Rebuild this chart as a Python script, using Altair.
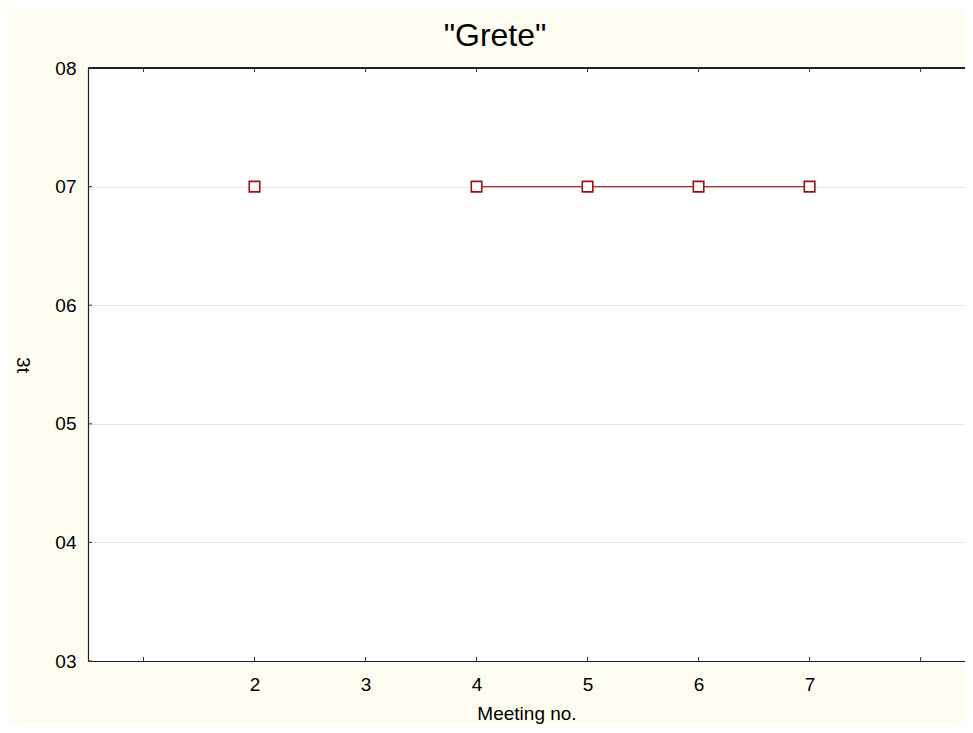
import altair as alt
import pandas as pd

# ---- data ----
meetings = [1, 2, 3, 4, 5, 6, 7, 8]
values_3t = [None, 7, None, 7, 7, 7, 7, None]
x_tick_values = [1, 2, 3, 4, 5, 6, 7, 8]
x_label_values = [2, 3, 4, 5, 6, 7]
y_tick_values = [3, 4, 5, 6, 7, 8]
chart_title = '"Grete"'

df = pd.DataFrame({"meeting": meetings, "value": values_3t})
xt = pd.DataFrame({"t": x_tick_values})
yt = pd.DataFrame({"t": y_tick_values})
tt = pd.DataFrame({"title": [chart_title]})

W, H = 877, 593
FONT = "Liberation Sans"
RED = "#9b1010"

xscale = alt.Scale(domain=[0.5, 8.4], nice=False, zero=False)
yscale = alt.Scale(domain=[3, 8], nice=False, zero=False)

xaxis = alt.Axis(values=x_label_values, format="d", title="Meeting no.", grid=False, tickSize=0,
                 labelPadding=23, labelBaseline="middle", labelFontSize=19, labelFont=FONT,
                 labelColor="black", titleFont=FONT, titleFontSize=19, titleFontWeight="normal",
                 titleColor="black", titleY=52, titleBaseline="middle",
                 domainColor="#222222", domainWidth=1.2)
yaxis = alt.Axis(values=y_tick_values, format="02d", title="3t", grid=True, gridColor="#e6e6e6",
                 gridWidth=1, tickSize=0, labelPadding=12, labelBaseline="middle",
                 labelFontSize=19, labelFont=FONT, labelColor="black",
                 titleFont=FONT, titleFontSize=19, titleFontWeight="normal", titleColor="black",
                 titleAngle=90, titleX=-66, titleY=H / 2, titleAlign="center",
                 titleBaseline="middle", domainColor="#222222", domainWidth=1.2)

line = alt.Chart(df).mark_line(color="#a83232", strokeWidth=1.2,
                               invalid="break-paths-filter-domains").encode(
    x=alt.X("meeting:Q", scale=xscale, axis=xaxis),
    y=alt.Y("value:Q", scale=yscale, axis=yaxis),
)

points = alt.Chart(df).mark_point(shape="square", size=110, filled=False, fill="white",
                                  fillOpacity=1, color=RED, strokeWidth=1.6, opacity=1).encode(
    x=alt.X("meeting:Q", scale=xscale),
    y=alt.Y("value:Q", scale=yscale),
)

top_border = alt.Chart(xt).mark_rule(color="#222222", strokeWidth=1.2).encode(
    x=alt.value(0), x2=alt.value(W), y=alt.value(0))

xticks_bottom = alt.Chart(xt).mark_rule(color="#333333", strokeWidth=1).encode(
    x=alt.X("t:Q", scale=xscale), y=alt.value(H), y2=alt.value(H - 4))
xticks_top = alt.Chart(xt).mark_rule(color="#333333", strokeWidth=1).encode(
    x=alt.X("t:Q", scale=xscale), y=alt.value(0), y2=alt.value(4))
yticks_left = alt.Chart(yt).mark_rule(color="#333333", strokeWidth=1).encode(
    y=alt.Y("t:Q", scale=yscale), x=alt.value(0), x2=alt.value(4))

title_text = alt.Chart(tt).mark_text(font=FONT, fontSize=32, color="black",
                                     align="center", baseline="alphabetic").encode(
    text="title:N", x=alt.value(407), y=alt.value(-22))

chart = alt.layer(line, points, top_border, xticks_bottom, xticks_top, yticks_left,
                  title_text).properties(
    width=W, height=H,
    background="#fffcf2",
    padding={"left": 80, "top": 60, "right": 0, "bottom": 64},
    autosize=alt.AutoSizeParams(type="none"),
).configure_view(stroke=None, fill="white")

chart.save("out.html", embed_options={"renderer": "svg", "actions": False})
